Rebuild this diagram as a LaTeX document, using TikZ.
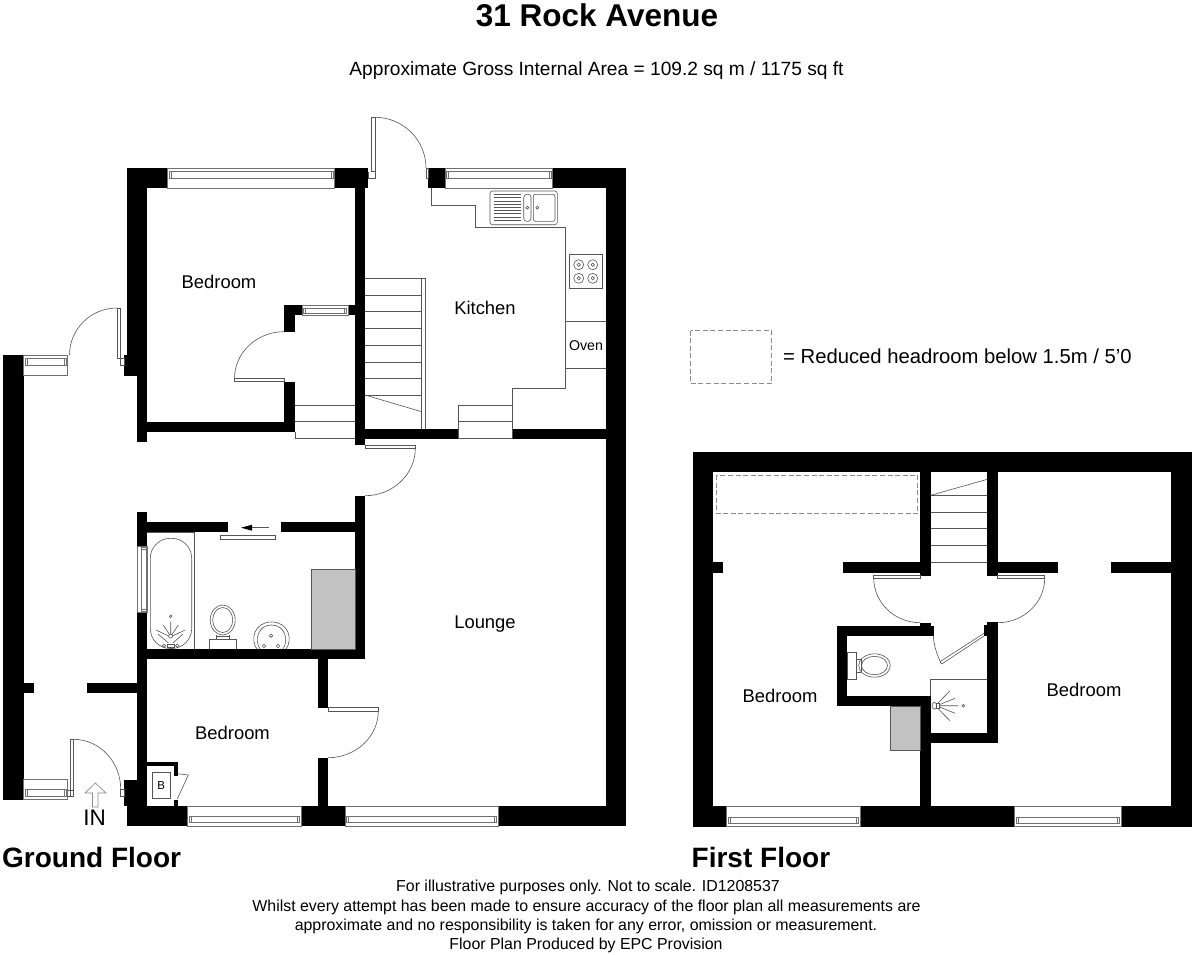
\documentclass[tikz,border=0pt]{standalone}
\usepackage{fontspec}
\setmainfont{Liberation Sans}
\definecolor{ln}{HTML}{555555}
\definecolor{winl}{HTML}{707070}
\definecolor{fillgrey}{HTML}{C2C2C2}
\definecolor{dashgrey}{HTML}{8A8A8A}
\tikzset{
  thinl/.style={draw=ln,line width=0.6pt,line join=miter},
  winline/.style={draw=winl,line width=0.5pt},
  wallfill/.style={fill=black,draw=none},
  grey box/.style={fill=fillgrey,draw=ln,line width=0.4pt},
  room/.style={inner sep=0pt,font=\fontsize{18.4}{20}\selectfont},
  lbl/.style={inner sep=0pt,align=center},
  foot/.style={inner sep=0pt,align=center,font=\fontsize{15.9}{18}\selectfont},
  headroom/.style={draw=dashgrey,line width=0.75pt,dash pattern=on 5pt off 2.6pt},
}
\newcommand\WL[4]{\fill[wallfill] (#1,#2) rectangle (#3,#4);}
% horizontal window: x1 x2 outer-y inner-y glaze-a glaze-b (offsets from outer, signed)
\newcommand\HWin[6]{\draw[winline,fill=white] (#1,#3) rectangle (#2,#4);
  \draw[winline] ({#1+1.5},{#3+#5}) rectangle ({#2-1.5},{#3+#6});
  \draw[winline] ({#1+3.5},{#3+#5}) -- ({#1+3.5},{#3+#6}) ({#2-3.5},{#3+#5}) -- ({#2-3.5},{#3+#6});}
\newcommand\VWin[6]{\draw[winline,fill=white] (#3,#1) rectangle (#4,#2);
  \draw[winline] ({#3+#5},{#1+1.5}) rectangle ({#3+#6},{#2-1.5});
  \draw[winline] ({#3+#5},{#1+3.5}) -- ({#3+#6},{#1+3.5}) ({#3+#5},{#2-3.5}) -- ({#3+#6},{#2-3.5});}
% quarter arc A -> B about centre C
\newcommand\QArc[6]{\draw[thinl] (#1,#2) .. controls ({#1+.5523*(#3-#5)},{#2+.5523*(#4-#6)}) and ({#3+.5523*(#1-#5)},{#4+.5523*(#2-#6)}) .. (#3,#4);}
\newcommand\Burner[2]{\draw[thinl] (#1,#2) circle[radius=5pt] (#1,#2) circle[radius=1.7pt];}
\begin{document}
\begin{tikzpicture}[x=1pt,y=-1pt]
\useasboundingbox[fill=white] (0,0) rectangle (1196,954);

% bath sits under the walls
\draw[thinl,rounded corners=20pt] (150.3,538.3) rectangle (191.7,648.5);

% ---------- GROUND FLOOR walls ----------
\WL{127}{168}{147}{355}
\WL{124}{355}{147}{375.5}
\WL{137}{375}{147}{442}
\WL{127}{168}{167.5}{188}
\WL{334.5}{168}{368.3}{188}
\WL{355}{168}{365}{445}
\WL{147}{422}{295}{432}
\WL{284}{305}{295}{332}
\WL{284}{381.7}{295}{432}
\WL{284}{305}{302}{315}
\WL{348}{305}{355}{315}
\WL{3}{355}{23.7}{799.5}
\WL{23.7}{682.7}{33.7}{692.7}
\WL{87}{682.7}{137}{692.7}
\WL{428.3}{168}{445}{188}
\WL{552.3}{168}{626}{188}
\WL{605.7}{168}{626}{826}
\WL{365}{428.7}{458.7}{438.7}
\WL{512.3}{428.7}{606}{438.7}
\WL{355}{496}{365}{659}
\WL{137}{511.7}{147}{546}
\WL{137}{612}{147}{806}
\WL{147}{522.3}{228}{532.3}
\WL{281}{522.3}{355}{532.3}
\WL{147}{649}{365}{659}
\WL{318}{659}{328}{708}
\WL{318}{757.7}{328}{806}
\WL{124}{779.7}{147}{806}
\WL{127}{806}{187.7}{826}
\WL{301}{806}{345}{826}
\WL{498}{806}{626}{826}
\WL{147}{762.3}{177.7}{766}
\WL{174.3}{762.3}{177.7}{775.5}
\WL{174.3}{800}{177.7}{806}

% windows
\HWin{167.5}{334.5}{168}{188}{3.7}{10}
\HWin{445}{552.3}{168}{188}{3.7}{10}
\HWin{302}{348}{305}{315}{3.3}{8}
\HWin{23.7}{67.7}{355}{375.7}{3.3}{10}
\HWin{23.7}{67.7}{799.7}{779.7}{-3.7}{-10}
\HWin{187.7}{301}{826}{806}{-3.7}{-9.5}
\HWin{345}{498}{826}{806}{-3.7}{-9.5}
\VWin{546}{612.3}{137.7}{147}{3.3}{8.3}

% doors
\draw[thinl] (117,308) rectangle (120,358);
\draw[thinl] (120,358) rectangle (124,365);
\QArc{117}{308}{69.5}{355}{117}{355}
\draw[thinl] (371.7,117.3) rectangle (375,171.7);
\draw[thinl] (368.3,171.7) -- (368.3,178) -- (375,178) -- (375,171.7);
\QArc{375}{117.3}{426}{168}{375}{168}
\draw[thinl] (426,168) rectangle (428.3,178);
\draw[thinl] (234.5,378.5) rectangle (284,381.7);
\QArc{234.5}{378.5}{284}{331.7}{284}{378.5}
\draw[thinl] (365,445.3) rectangle (415.3,448.3);
\QArc{415.3}{448.3}{365}{495.7}{365}{448.3}
\draw[thinl] (328,707.7) rectangle (378.3,711);
\QArc{378.3}{711}{328}{757.7}{328}{711}
\draw[thinl] (70,739.3) rectangle (73.3,796);
\draw[thinl] (67.7,790) -- (73.3,790) (67.7,796) -- (70,796);
\QArc{73.3}{739.3}{120.7}{789}{73.3}{789}
\draw[thinl] (120.5,789) rectangle (124,796.7);
% sliding door
\draw[thinl] (220.7,535.7) rectangle (275,539);
\draw[line width=0.6pt,draw=ln] (268.7,527.7) -- (250,527.7);
\fill[black] (241,527.7) -- (252,524.7) -- (252,530.7) -- cycle;

% kitchen fittings
\draw[thinl] (431.6,188) -- (431.6,205) -- (475.7,205) -- (475.7,227.7) -- (565.7,227.7) -- (565.7,388.3) -- (512.3,388.3) -- (512.3,438.7) -- (458.7,438.7) -- (458.7,405) -- (512.3,405);
\draw[thinl] (458.7,421.7) -- (512.3,421.7);
\draw[thinl] (565.7,321.3) -- (605.7,321.3) (565.7,368.3) -- (605.7,368.3);
\draw[thinl,rounded corners=2.5pt] (490,191) rectangle (557.3,224.7);
\foreach \yy in {194.5,197.7,200.9,204.1,207.3,210.5,213.7,216.9,220.1}{\draw[thinl,line width=0.5pt] (494,\yy) -- (520.7,\yy);}
\draw[thinl,rounded corners=3pt] (523.7,194.3) rectangle (531,221.3);
\draw[thinl,rounded corners=2pt] (533.3,194.3) rectangle (555,221.3);
\draw[thinl] (527.3,207.7) circle[radius=1.5pt] (537.3,207.7) circle[radius=1.5pt];
\draw[thinl] (569,254.3) rectangle (602.7,288.3);
\Burner{578.7}{264.7}\Burner{592.7}{264.7}\Burner{578.7}{278.3}\Burner{592.7}{278.3}

% stairs
\foreach \yy in {278.3,295,311.7,328.7,345,362,378.7,395}{\draw[thinl] (365,\yy) -- (421.7,\yy);}
\draw[thinl] (365,395) -- (421.7,411.7);
\draw[thinl] (421.7,278.3) -- (421.7,428.7) (425.3,278.3) -- (425.3,428.7) (421.7,278.3) -- (425.3,278.3);
\foreach \yy in {405,421.7,438}{\draw[thinl] (295,\yy) -- (355,\yy);}
\draw[thinl] (295,432) -- (295,438);

% bathroom
\draw[thinl] (147,532.3) -- (194.3,532.3) -- (194.3,649);
\draw[thinl,fill=white] (164,645.7) circle[radius=1.7pt] (177.3,645.7) circle[radius=1.7pt];
\draw[thinl] (167.3,644.3) rectangle (174,647.3);
\draw[thinl] (170.7,616.3) circle[radius=1.3pt];
\draw[thinl] (170.7,636) circle[radius=2pt];
\draw[thinl] (170.7,634) -- (170.7,621.7) (169.5,634.5) -- (163.3,625) (172,634.5) -- (178.3,625) (168.7,636) -- (156,630) (172.7,636) -- (185,630) (168.5,643) -- (158,634) (173,643) -- (183,634);
\fill[grey box] (311.3,569) rectangle (355,649);
\draw[thinl] (209,649) -- (209,639) -- (236.7,639) -- (236.7,649);
\draw[thinl] (216,639) -- (216,634.5) (229,639) -- (229,634.5) (216,636) -- (229,636);
\draw[thinl] (222.7,620) ellipse[x radius=12.5pt,y radius=15pt] (222.7,620) ellipse[x radius=10pt,y radius=12.5pt];
\draw[thinl] (257,649) .. controls (250,640) and (254,622) .. (271.5,622) .. controls (289,622) and (293,640) .. (286,649);
\draw[thinl] (260,649) .. controls (254,640) and (258,625) .. (271.5,625) .. controls (285,625) and (289,640) .. (283,649);
\draw[thinl] (271,635.7) circle[radius=1.7pt] (264,646) circle[radius=1.7pt] (278,646) circle[radius=1.7pt];

% boiler cupboard
\draw[thinl] (152.7,772.7) rectangle (170,798.7);
\draw[thinl] (177.7,773.7) -- (188.3,775) -- (177.3,799);
\node[lbl,font=\fontsize{11.5}{13}\selectfont] (boiler) at (161.3,785.7) {B};

% entrance arrow
\draw[draw=dashgrey,line width=0.65pt,fill=white] (92.5,807) -- (92.5,793) -- (85,793) -- (95.3,783) -- (106,793) -- (98,793) -- (98,807) -- cycle;

% ---------- FIRST FLOOR walls ----------
\WL{692.7}{452}{1191.7}{472.3}
\WL{692.7}{452}{713.3}{826.7}
\WL{1171.3}{452}{1191.7}{826.7}
\WL{692.7}{806}{726.3}{826.7}
\WL{860}{806}{1014.3}{826.7}
\WL{1121}{806}{1191.7}{826.7}
\WL{920.3}{472}{930.7}{575.7}
\WL{987.3}{472}{997.7}{575.7}
\WL{843.3}{562.3}{920.3}{572.7}
\WL{713}{562.3}{723.3}{572.7}
\WL{997.7}{562.3}{1058}{572.7}
\WL{1111}{562.3}{1171.5}{572.7}
\WL{920.3}{622.7}{930.7}{636.3}
\WL{837}{626}{934}{636.3}
\WL{837}{626}{847.3}{706.3}
\WL{837}{696}{930.7}{706.3}
\WL{920.3}{696}{930.7}{806}
\WL{987.3}{622.3}{997.7}{743}
\WL{984}{625}{990}{636}
\WL{920.3}{732.7}{997.7}{743}
\HWin{726.3}{860}{826.7}{806}{-3.7}{-9.5}
\HWin{1014.3}{1121}{826.7}{806}{-3.7}{-9.5}

% stairs first floor
\foreach \yy in {495.3,512,528.7,545.3,562.3}{\draw[thinl] (930.7,\yy) -- (987.3,\yy);}
\draw[thinl] (930.7,495.3) -- (987.3,479.3);
\draw[headroom] (716.3,475) rectangle (917.7,513.7);

% first floor doors
\draw[thinl] (873.7,575.7) rectangle (920.3,578.7);
\QArc{873.7}{578}{920.3}{622.7}{920.3}{578}
\draw[thinl] (997.7,575.7) rectangle (1044.7,578.7);
\QArc{1044.7}{578}{997.7}{622.7}{997.7}{578}
\draw[thinl] (984,633.3) -- (940,661.7) -- (941.7,664) -- (984,636);
\draw[thinl] (933.3,636) .. controls (934,646) and (937,655) .. (941,663);

% first floor wc and shower
\draw[thinl] (847.3,652) rectangle (856.7,679);
\draw[thinl] (856.7,659) -- (861,659) (856.7,672) -- (861,672) (861,659) -- (861,672);
\draw[thinl] (874.5,665.5) ellipse[x radius=15.8pt,y radius=11.7pt] (874.5,665.5) ellipse[x radius=13pt,y radius=9.2pt];
\draw[thinl] (930.7,696) -- (930.7,679) -- (987.3,679);
\draw[thinl] (934.3,705.7) ellipse[x radius=2.3pt,y radius=3.5pt];
\draw[thinl] (936.7,703) rectangle (939.7,708.5);
\draw[thinl] (939.7,705.7) -- (958.3,705.7) (939.7,704.5) -- (955,698.3) (939.7,707) -- (955,713.3) (938,703) -- (950,690.7) (938,708.5) -- (950,720.7);
\draw[thinl] (963.3,705.7) circle[radius=1.3pt];
\fill[grey box] (890.3,706.3) rectangle (920.3,749.7);

% legend
\draw[headroom] (690.5,330.5) rectangle (771.5,383.5);

% ---------- TEXT ----------
\node[lbl,font=\bfseries\fontsize{31.5}{34}\selectfont] (title) at (597,15.5) {31 Rock Avenue};
\node[lbl,font=\fontsize{19.15}{21}\selectfont] (subtitle) at (596.5,71) {Approximate Gross Internal Area = 109.2 sq m / 1175 sq ft};
\node[room] (bed1) at (219,281.5) {Bedroom};
\node[room] (kitchen) at (485,308) {Kitchen};
\node[lbl,font=\fontsize{14.2}{16}\selectfont] (oven) at (586,345.5) {Oven};
\node[room] (lounge) at (485,624.5) {Lounge};
\node[room] (bed2) at (232.5,732.5) {Bedroom};
\node[room] (bed3) at (780,696) {Bedroom};
\node[room] (bed4) at (1084,689.5) {Bedroom};
\node[lbl,font=\fontsize{22.5}{24}\selectfont] (in) at (94.5,817.5) {IN};
\node[inner sep=0pt,anchor=west,font=\fontsize{20.25}{22}\selectfont] (legend) at (783,356) {= Reduced headroom below 1.5m / 5'0};
\node[inner sep=0pt,anchor=west,font=\bfseries\fontsize{28}{30}\selectfont] (gf) at (2,857) {Ground Floor};
\node[inner sep=0pt,anchor=west,font=\bfseries\fontsize{28}{30}\selectfont] (ff) at (691.5,857) {First Floor};
\node[foot] (f1) at (588,887.5) {For illustrative purposes only. Not to scale. ID1208537};
\node[foot] (f2) at (586.5,907) {Whilst every attempt has been made to ensure accuracy of the floor plan all measurements are};
\node[foot] (f3) at (586,926.5) {approximate and no responsibility is taken for any error, omission or measurement.};
\node[foot] (f4) at (586,945) {Floor Plan Produced by EPC Provision};
\end{tikzpicture}
\end{document}
